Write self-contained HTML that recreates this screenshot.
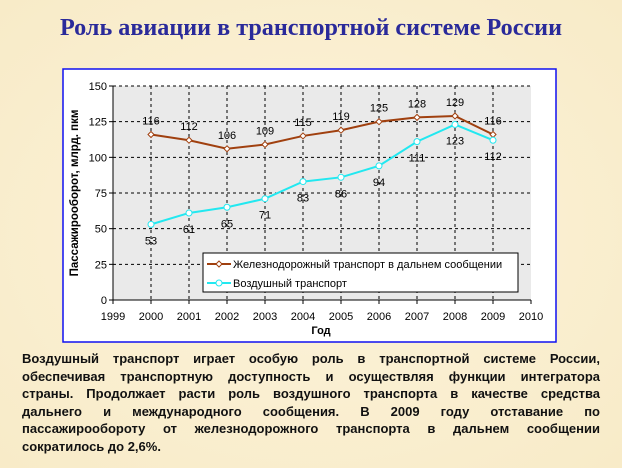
<!DOCTYPE html>
<html><head><meta charset="utf-8"><style>
body{margin:0;width:622px;height:468px;overflow:hidden;background:#fbf1d6;font-family:"Liberation Sans",Arial,sans-serif;}
#para{position:absolute;left:22px;top:350px;width:578px;font-size:13px;font-weight:bold;line-height:17.6px;color:#111;}
#para div{text-align:justify;text-align-last:justify;white-space:nowrap;}
#para div.last{text-align-last:left;}
</style></head><body>
<svg width="622" height="468" style="position:absolute;left:0;top:0">
<defs><radialGradient id="bg" cx="50%" cy="50%" r="70%"><stop offset="0" stop-color="#fcf3da"/><stop offset="1" stop-color="#f8ebc8"/></radialGradient></defs>
<rect width="622" height="468" fill="url(#bg)"/>
<text x="311" y="35" text-anchor="middle" font-family="Liberation Serif,serif" font-weight="bold" font-size="24" textLength="502" lengthAdjust="spacingAndGlyphs" fill="#2a2a9a">Роль авиации в транспортной системе России</text>
<rect x="63" y="69" width="493" height="273" fill="#fff" stroke="#1010f0" stroke-width="1.5"/>
<rect x="113" y="86" width="418" height="214" fill="#eaeaea"/>
<g id="grid"></g>
<g id="axes"></g>
<g id="series"></g>
<text transform="translate(78,193) rotate(-90)" text-anchor="middle" font-size="11.5" font-weight="bold">Пассажирооборот, млрд. пкм</text>
<text x="321" y="334" text-anchor="middle" font-size="11" font-weight="bold">Год</text>
<g>
<rect x="203" y="253" width="315" height="39" fill="#fff" stroke="#000"/>
<g>
<line x1="207" y1="264" x2="231" y2="264" stroke="#a0400f" stroke-width="2"/>
<path d="M219 261 L222 264 L219 267 L216 264 Z" fill="#fff" stroke="#a0400f"/>
<text x="233" y="268" font-size="11">Железнодорожный транспорт в дальнем сообщении</text></g>
<g>
<line x1="207" y1="283" x2="231" y2="283" stroke="#22e8f0" stroke-width="2"/>
<circle cx="219" cy="283" r="3" fill="#fff" stroke="#22e8f0"/>
<text x="233" y="287" font-size="11">Воздушный транспорт</text></g>
</g>
</svg>
<div id="para">
<div>Воздушный транспорт играет особую роль в транспортной системе России,</div>
<div>обеспечивая транспортную доступность и осуществляя функции интегратора</div>
<div>страны. Продолжает расти роль воздушного транспорта в качестве средства</div>
<div>дальнего и международного сообщения. В 2009 году отставание по</div>
<div>пассажирообороту от железнодорожного транспорта в дальнем сообщении</div>
<div class="last">сократилось до 2,6%.</div>
</div>
<script>
const years=[2000,2001,2002,2003,2004,2005,2006,2007,2008,2009];
const railValues=[116,112,106,109,115,119,125,128,129,116];
const airValues=[53,61,65,71,83,86,94,111,123,112];
const yTicks=[0,25,50,75,100,125,150];
const xTicks=[1999,2000,2001,2002,2003,2004,2005,2006,2007,2008,2009,2010];
const NS='http://www.w3.org/2000/svg';
const X0=113,X1=531,Y0=300,Y1=86;
function xs(v){return X0+(v-1999)/(2010-1999)*(X1-X0);}
function ys(v){return Y0-v/150*(Y0-Y1);}
function mk(tag,attrs,parent,txt){const e=document.createElementNS(NS,tag);for(const k in attrs)e.setAttribute(k,attrs[k]);if(txt!=null)e.textContent=txt;parent.appendChild(e);return e;}
const grid=document.getElementById('grid'),axes=document.getElementById('axes'),series=document.getElementById('series');
yTicks.forEach(v=>{
 if(v>0){const g=mk('line',{x1:X0,x2:X1,y1:ys(v),y2:ys(v),stroke:'#000','stroke-dasharray':'3,3','stroke-width':1},grid);
 
 }
 const t=mk('text',{x:X0-6,y:ys(v)+4,'text-anchor':'end','font-size':11},axes,v);
 
 
 mk('line',{x1:X0-4,x2:X0,y1:ys(v),y2:ys(v),stroke:'#000'},axes);
});
xTicks.forEach(v=>{
 if(v>1999&&v<2010){const g=mk('line',{x1:xs(v),x2:xs(v),y1:Y1,y2:Y0,stroke:'#000','stroke-dasharray':'3,3','stroke-width':1},grid);
 
 }
 const t=mk('text',{x:xs(v),y:Y0+20,'text-anchor':'middle','font-size':11},axes,v);
 
 
 mk('line',{x1:xs(v),x2:xs(v),y1:Y0,y2:Y0+4,stroke:'#000'},axes);
});
mk('line',{x1:X0,x2:X0,y1:Y1,y2:Y0,stroke:'#000'},axes);
mk('line',{x1:X0,x2:X1,y1:Y0,y2:Y0,stroke:'#000'},axes);
function drawSeries(vals,color,name,marker,above){
 const pts=vals.map((v,i)=>xs(years[i])+','+ys(v)).join(' ');
 const pl=mk('polyline',{points:pts,fill:'none',stroke:color,'stroke-width':2},series);
 
 
 vals.forEach((v,i)=>{
  const x=xs(years[i]),y=ys(v);let m;
  if(marker==='d')m=mk('path',{d:`M${x} ${y-3}L${x+3} ${y}L${x} ${y+3}L${x-3} ${y}Z`,fill:'#fff',stroke:color},series);
  else m=mk('circle',{cx:x,cy:y,r:3,fill:'#fff',stroke:color},series);
  
  
  const t=mk('text',{x:x,y:above?y-10:y+20,'text-anchor':'middle','font-size':11},series,v);
  
  
 });
}
drawSeries(railValues,'#a0400f','rail','d',true);
drawSeries(airValues,'#22e8f0','air','c',false);
</script>
</body></html>
